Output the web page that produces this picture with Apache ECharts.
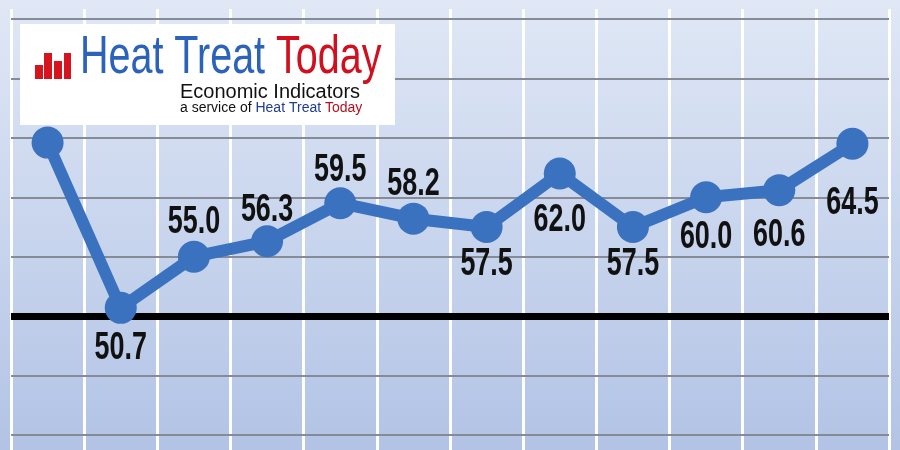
<!DOCTYPE html>
<html>
<head>
<meta charset="utf-8">
<script src="https://cdn.jsdelivr.net/npm/echarts@6/dist/echarts.min.js"></script>
<style>html,body{margin:0;padding:0;}#c{width:900px;height:450px;}</style>
</head>
<body>
<div id="c"></div>
<script>
// ---- data ----
var categories = ['P1','P2','P3','P4','P5','P6','P7','P8','P9','P10','P11','P12'];
var values = [64.6, 50.7, 55.0, 56.3, 59.5, 58.2, 57.5, 62.0, 57.5, 60.0, 60.6, 64.5];
var gridValues = [40, 45, 55, 60, 65, 70, 75];
var referenceLevel = 50;
// label offsets from the dot centre (layout config, px; negative = above)
var labelOffset = [-34, 40, -34, -31, -33, -34, 37, 47, 37, 40, 45, 59];

var chart = echarts.init(document.getElementById('c'));

var markData = gridValues.map(function (v) { return { yAxis: v }; });
markData.push({ yAxis: referenceLevel, lineStyle: { color: '#000000', width: 7, type: 'solid' } });

chart.setOption({
  backgroundColor: {
    type: 'linear', x: 0, y: 0, x2: 0, y2: 1,
    colorStops: [{ offset: 0, color: '#e0e8f6' }, { offset: 1, color: '#b2c3e5' }]
  },
  animation: false,
  grid: { left: 11, right: 11, top: 9, bottom: 0, containLabel: false },
  xAxis: {
    type: 'category', data: categories, boundaryGap: true, z: 2,
    axisLine: { show: false }, axisTick: { show: false }, axisLabel: { show: false },
    splitLine: { show: true, lineStyle: { color: '#ffffff', width: 3 } }
  },
  yAxis: {
    type: 'value', min: 38.74, max: 75.84, z: 0,
    axisLine: { show: false }, axisTick: { show: false }, axisLabel: { show: false },
    splitLine: { show: false }
  },
  series: [
    {
      type: 'line', data: [], z: 1, silent: true,
      markLine: {
        silent: true, symbol: 'none', animation: false,
        label: { show: false },
        lineStyle: { color: '#868b95', width: 2, type: 'solid' },
        data: markData
      }
    },
    {
      type: 'line', data: values, z: 5,
      symbol: 'circle', symbolSize: 32,
      lineStyle: { color: '#3a72c0', width: 12 },
      itemStyle: { color: '#3a72c0' },
      label: { show: false }
    },
    {
      type: 'custom', z: 6, silent: true,
      data: values.map(function (v, i) { return [i, v]; }),
      encode: { x: 0, y: 1 },
      renderItem: function (params, api) {
        var i = params.dataIndex;
        var p = api.coord([api.value(0), api.value(1)]);
        return {
          type: 'text', x: p[0], y: p[1] + labelOffset[i], scaleX: 0.69,
          style: {
            text: api.value(1).toFixed(1),
            align: 'center', verticalAlign: 'middle',
            font: 'bold 39px "Liberation Sans", Arial, sans-serif',
            fill: '#111111'
          }
        };
      }
    }
  ],
  graphic: [
    { type: 'rect', z: 10, shape: { x: 20, y: 24, width: 375, height: 101 }, style: { fill: '#ffffff' } },
    { type: 'rect', z: 11, shape: { x: 35, y: 65, width: 8, height: 14 }, style: { fill: '#d7141d' } },
    { type: 'rect', z: 11, shape: { x: 44, y: 53, width: 8, height: 26 }, style: { fill: '#d7141d' } },
    { type: 'rect', z: 11, shape: { x: 54, y: 61, width: 8, height: 18 }, style: { fill: '#d7141d' } },
    { type: 'rect', z: 11, shape: { x: 64, y: 53, width: 7, height: 26 }, style: { fill: '#d7141d' } },
    {
      type: 'text', z: 11, x: 80, y: 58, scaleX: 0.745,
      style: {
        text: '{b|Heat Treat }{r|Today}',
        verticalAlign: 'middle', align: 'left',
        fontFamily: 'Liberation Sans', fontSize: 53,
        rich: {
          b: { fill: '#2a63b9', fontFamily: 'Liberation Sans', fontSize: 53 },
          r: { fill: '#d0101e', fontFamily: 'Liberation Sans', fontSize: 53 }
        }
      }
    },
    {
      type: 'text', z: 11, x: 180, y: 92,
      style: {
        text: 'Economic Indicators', verticalAlign: 'middle', align: 'left',
        fontFamily: 'Liberation Sans', fontSize: 20, fill: '#111111'
      }
    },
    {
      type: 'text', z: 11, x: 180, y: 108,
      style: {
        text: '{k|a service of }{b|Heat Treat }{r|Today}',
        verticalAlign: 'middle', align: 'left',
        fontFamily: 'Liberation Sans', fontSize: 14,
        rich: {
          k: { fill: '#111111', fontFamily: 'Liberation Sans', fontSize: 14 },
          b: { fill: '#1e3d8f', fontFamily: 'Liberation Sans', fontSize: 14 },
          r: { fill: '#b5101e', fontFamily: 'Liberation Sans', fontSize: 14 }
        }
      }
    }
  ]
});
</script>
</body>
</html>
